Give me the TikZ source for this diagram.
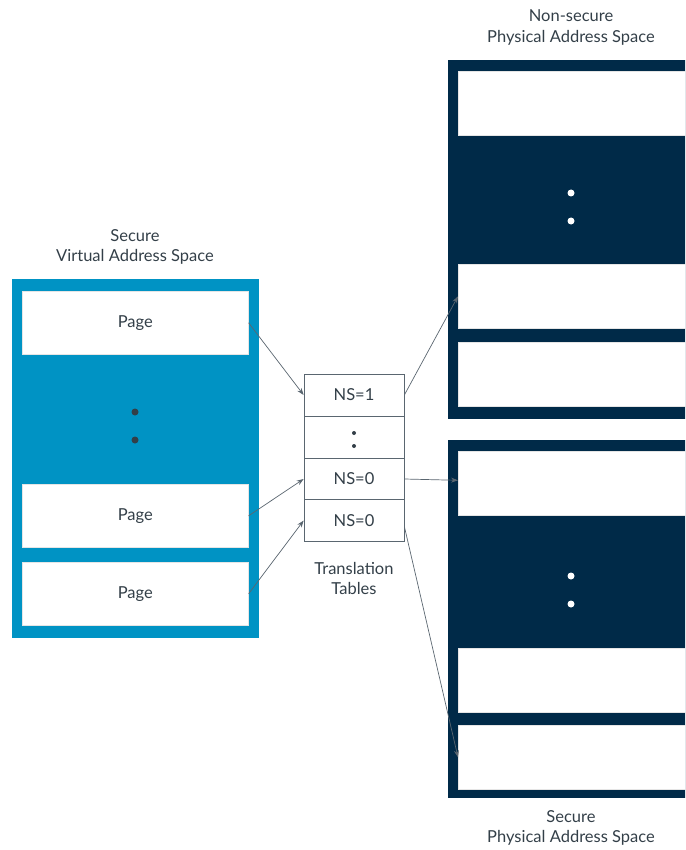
\documentclass[tikz,border=0pt]{standalone}
\usepackage{fontspec}
\setmainfont{Lato}
\usetikzlibrary{arrows.meta}
\definecolor{vblue}{HTML}{0093C4}
\definecolor{navy}{HTML}{002A48}
\definecolor{txt}{HTML}{333F48}
\definecolor{ln}{HTML}{5A6670}
\begin{document}
\begin{tikzpicture}[x=1pt,y=-1pt,
  lbl/.style={text=txt,font=\fontsize{16.5}{20.5}\selectfont,align=center},
  wbox/.style={fill=white,draw=white!80!gray,line width=0.6pt,anchor=north west,inner sep=0pt,text=txt,font=\fontsize{16.5}{20}\selectfont},
  cell/.style={draw=ln,line width=0.7pt,fill=white,minimum width=100pt,minimum height=41.75pt,inner sep=0pt,text=txt,font=\fontsize{16.5}{20}\selectfont},
  conn/.style={draw=ln,line width=0.7pt,-{Stealth[length=7pt,width=5pt]}},
  dot/.style={circle,fill=#1,inner sep=0pt,minimum size=7pt}]
\useasboundingbox (0,0) rectangle (685,850);
\begin{scope}
\clip (0,0) rectangle (685,850);
% left block
\fill[vblue] (12,279) rectangle (259,638);
\node[wbox,minimum width=226pt,minimum height=63pt] (p1) at (22,291) {Page};
\node[wbox,minimum width=226pt,minimum height=63pt] (p2) at (22,484) {Page};
\node[wbox,minimum width=226pt,minimum height=63pt] (p3) at (22,562) {Page};
\node[dot=txt] (ld1) at (135,412) {};
\node[dot=txt] (ld2) at (135,440) {};
% top right block
\fill[navy] (448,60) rectangle (700,419);
\node[wbox,minimum width=240pt,minimum height=64pt] (n1) at (458,71) {};
\node[wbox,minimum width=240pt,minimum height=64pt] (n2) at (458,264) {};
\node[wbox,minimum width=240pt,minimum height=64pt] (n3) at (458,342) {};
\node[dot=white] (nd1) at (571,193) {};
\node[dot=white] (nd2) at (571,221) {};
% bottom right block
\fill[navy] (448,440) rectangle (700,798);
\node[wbox,minimum width=240pt,minimum height=64pt] (s1) at (458,451) {};
\node[wbox,minimum width=240pt,minimum height=64pt] (s2) at (458,648) {};
\node[wbox,minimum width=240pt,minimum height=64pt] (s3) at (458,725) {};
\node[dot=white] (sd1) at (571,576) {};
\node[dot=white] (sd2) at (571,604) {};
\end{scope}
% translation table
\node[cell] (t1) at (354,395) {NS=1};
\node[cell] (t2) at (354,437) {};
\node[cell] (t3) at (354,479) {NS=0};
\node[cell] (t4) at (354,520.5) {NS=0};
\node[circle,fill=txt,inner sep=0pt,minimum size=4pt] (td1) at (354,433) {};
\node[circle,fill=txt,inner sep=0pt,minimum size=4pt] (td2) at (354,446) {};
% labels
\node[lbl] (lv) at (135,247) {Secure\\Virtual Address Space};
\node[lbl] (ln) at (571,27.5) {Non-secure\\Physical Address Space};
\node[lbl] (ls) at (571,828) {Secure\\Physical Address Space};
\node[lbl] (lt) at (354,578.5) {Translation\\Tables};
% connectors
\draw[conn] (p1.east) -- (t1.west);
\draw[conn] (p2.east) -- (t3.west);
\draw[conn] (p3.east) -- (t4.west);
\draw[conn] (t1.east) -- (n2.west);
\draw[conn] (t3.east) -- ([yshift=3pt]s1.west);
\draw[conn] ([yshift=-6pt]t4.east) -- (s3.west);
\end{tikzpicture}
\end{document}
